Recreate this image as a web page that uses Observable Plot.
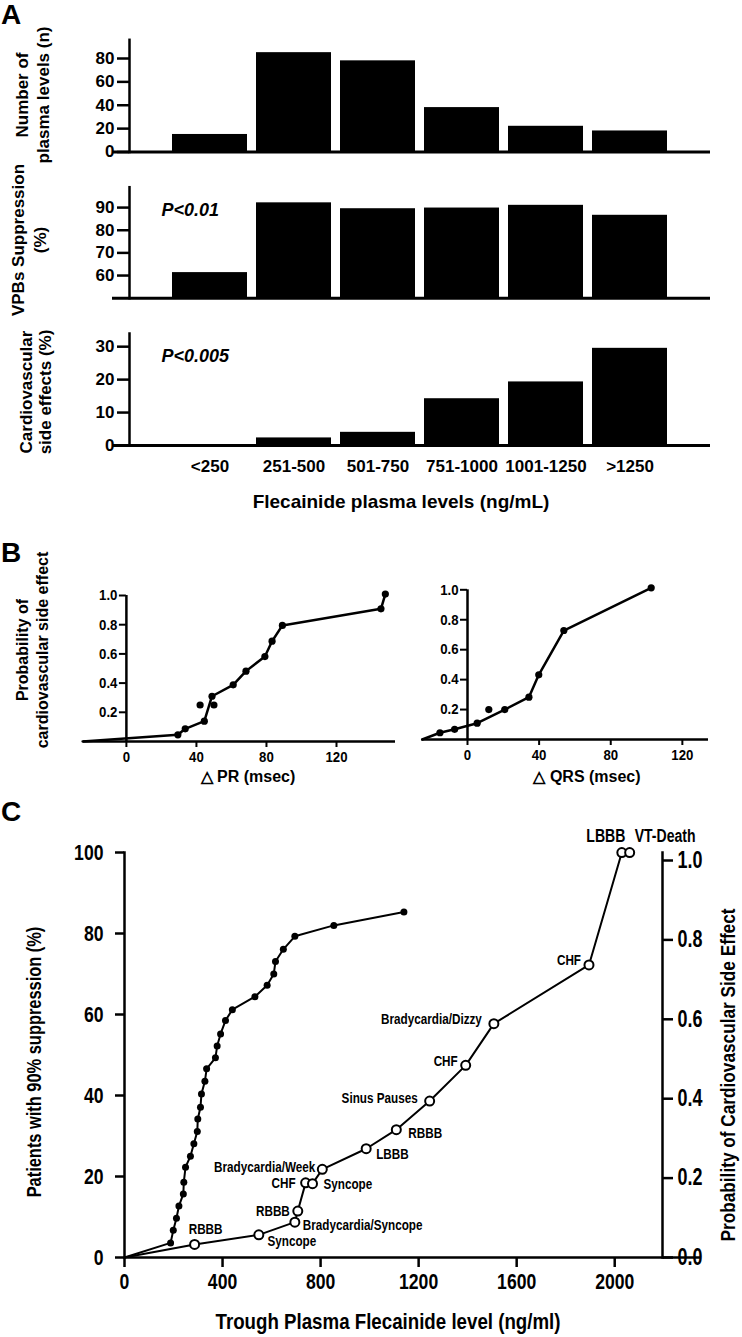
<!DOCTYPE html>
<html><head><meta charset="utf-8">
<script src="https://cdn.jsdelivr.net/npm/d3@7"></script>
<script src="https://cdn.jsdelivr.net/npm/@observablehq/plot@0.6"></script>
<style>
body{margin:0;background:#fff;}
#fig{position:relative;width:742px;height:1337px;overflow:hidden;background:#fff;}
#fig svg{position:absolute;left:0;}
.lab{position:absolute;color:#000;font-weight:bold;white-space:nowrap;text-align:center;}
</style></head><body><div id="fig"></div>
<script>
// ---------- DATA ----------
// Panel A
const plasmaBins = ["<250", "251-500", "501-750", "751-1000", "1001-1250", ">1250"];
const nPlasmaLevels = [15, 85, 78, 38, 22, 18];
const vpbSuppression = [61.3, 92.1, 89.5, 89.8, 91.0, 86.6];
const cvSideEffects = [0, 2.3, 4.0, 14.2, 19.3, 29.5];
// Panel B
const prDelta = [-25, 29.4, 33.6, 44.5, 48.9, 61, 68.3, 79.1, 83.2, 89.1, 145.4, 147.9];
const prProb  = [0, 0.046, 0.087, 0.139, 0.31, 0.388, 0.482, 0.582, 0.687, 0.795, 0.909, 1.01];
const prOutDelta = [42.1, 50];
const prOutProb = [0.25, 0.25];
const qrsDelta = [-25.3, -15.4, -7.2, 5.4, 20.8, 34.3, 39.8, 53.8, 102.6];
const qrsProb  = [0, 0.045, 0.068, 0.109, 0.2, 0.283, 0.432, 0.728, 1.013];
const qrsOutDelta = [11.9];
const qrsOutProb = [0.2];
// Panel C
const suppLevel = [0, 188, 199, 212, 222, 240, 242, 249, 269, 283, 297, 299, 310, 314, 328, 335, 371, 378, 392, 412, 440, 532, 582, 609, 616, 648, 695, 854, 1140];
const suppPct   = [0, 3.6, 6.7, 9.7, 12.7, 15.7, 18.6, 22.3, 25, 28.1, 31.1, 34.2, 37.1, 40.4, 43.5, 46.6, 49.3, 52.2, 55.2, 58.5, 61.2, 64.4, 67.2, 70, 73.1, 76.1, 79.3, 82, 85.3];
const seLevel = [0, 286, 548, 695, 707, 739, 767, 807, 986, 1109, 1245, 1392, 1507, 1895, 2029, 2061];
const seProb  = [0, 0.033, 0.057, 0.089, 0.117, 0.188, 0.186, 0.222, 0.274, 0.322, 0.394, 0.484, 0.589, 0.737, 1.02, 1.02];
const seEvent = ["", "RBBB", "Syncope", "Bradycardia/Syncope", "RBBB", "CHF", "Syncope", "Bradycardia/Week", "LBBB", "RBBB", "Sinus Pauses", "CHF", "Bradycardia/Dizzy", "CHF", "LBBB", "VT-Death"];
const ticksA1 = [0, 20, 40, 60, 80];
const ticksA2 = [60, 70, 80, 90];
const ticksA3 = [0, 10, 20, 30];
const ticksB = [0, 40, 80, 120];
const ticksBy = [0.2, 0.4, 0.6, 0.8, 1.0];
const ticksCx = [0, 400, 800, 1200, 1600, 2000];
const ticksCy = [0, 20, 40, 60, 80, 100];
const ticksCr = [0, 0.2, 0.4, 0.6, 0.8, 1.0];

// ---------- LAYOUT / STYLE ----------
const FONT = '"Liberation Sans",Arial,sans-serif';
const fig = document.getElementById("fig");
function put(svg, top){ svg.style.top = top + "px"; fig.appendChild(svg); return svg; }
// horizontally condense svg texts (the reference uses a condensed bold face)
function condense(svg, f, sel = "text") {
  svg.querySelectorAll(sel).forEach(t => {
    const L = t.getComputedTextLength();
    if (L > 0) { t.setAttribute("textLength", (L * f).toFixed(2)); t.setAttribute("lengthAdjust", "spacingAndGlyphs"); }
  });
}
function lab(html, cx, cy, size, o = {}) {
  const d = document.createElement("div");
  d.className = "lab";
  d.innerHTML = html;
  d.style.left = cx + "px"; d.style.top = cy + "px";
  d.style.fontSize = size + "px";
  d.style.fontFamily = FONT;
  d.style.lineHeight = (o.lh || size * 1.15) + "px";
  if (o.italic) d.style.fontStyle = "italic";
  d.style.transform = "translate(-50%,-50%)" + (o.rot ? " rotate(-90deg)" : "") + (o.sx ? ` scaleX(${o.sx})` : "");
  fig.appendChild(d);
}
const baseStyle = (fs) => ({background: "transparent", overflow: "visible", fontFamily: FONT, fontWeight: "bold", fontSize: fs + "px", color: "black"});

// ---------- PANEL A ----------
const rowsA = plasmaBins.map((b, i) => ({bin: b, n: nPlasmaLevels[i], vpb: vpbSuppression[i], cv: cvSideEffects[i]}));
function panelA({height, mt, mb, field, domain, ticks, base, annot, showX}) {
  const marks = [
    Plot.barY(rowsA, {x: "bin", y1: () => base, y2: field, fill: "black"}),
    Plot.ruleY([base], {strokeWidth: 3, insetLeft: -17}),
    Plot.frame({anchor: "left", strokeWidth: 2.5}),
    Plot.axisY({ticks, tickSize: 12, tickPadding: 3, strokeWidth: 2.5, fontSize: 17, fontWeight: "bold", label: null})
  ];
  if (annot) marks.push(Plot.text([annot], {frameAnchor: "top-left", dx: 32, dy: 16, textAnchor: "start", fontSize: 18, fontStyle: "italic", fontWeight: "bold"}));
  if (showX) marks.push(Plot.axisX({tickSize: 0, tickPadding: 14, fontSize: 17, fontWeight: "bold", label: null}));
  return Plot.plot({
    width: 742, height, marginLeft: 129, marginRight: 32, marginTop: mt, marginBottom: mb,
    x: {domain: plasmaBins, paddingInner: 0.11, paddingOuter: 0.5, axis: showX ? undefined : null},
    y: {domain},
    style: baseStyle(17),
    marks
  });
}
put(panelA({height: 170, mt: 39.3, mb: 18.5, field: "n", domain: [0, 96], ticks: ticksA1, base: 0}), 0);
put(panelA({height: 140, mt: 16.7, mb: 12.3, field: "vpb", domain: [50, 99], ticks: ticksA2, base: 50, annot: "P<0.01"}), 170);
put(panelA({height: 200, mt: 13, mb: 75, field: "cv", domain: [0, 34], ticks: ticksA3, base: 0, annot: "P<0.005", showX: true}), 320);

// ---------- PANEL B ----------
function panelB({xdom, ml, mr, mt, mb, dx, dp, odx, odp}) {
  const pts = dx.map((x, i) => ({x, y: dp[i]}));
  const out = odx.map((x, i) => ({x, y: odp[i]}));
  return Plot.plot({
    width: 742, height: 260, marginLeft: ml, marginRight: mr, marginTop: mt, marginBottom: mb,
    x: {domain: xdom}, y: {domain: [0, 1], axis: null},
    style: baseStyle(15),
    marks: [
      Plot.ruleY([0], {strokeWidth: 2.5}),
      Plot.ruleX([0], {y1: 0, y2: 1, strokeWidth: 2.5}),
      Plot.ruleY(ticksBy, {x1: 0, x2: 0, insetLeft: -7, strokeWidth: 2}),
      Plot.text(ticksBy, {x: 0, y: d => d, text: d => d.toFixed(1), textAnchor: "end", dx: -9, fontSize: 15}),
      Plot.axisX({ticks: ticksB, tickSize: 6, tickPadding: 4, strokeWidth: 2, fontSize: 15, label: null}),
      Plot.line(pts, {x: "x", y: "y", strokeWidth: 2.5}),
      Plot.dot(pts.slice(1), {x: "x", y: "y", r: 3.6, fill: "black"}),
      Plot.dot(out, {x: "x", y: "y", r: 3.6, fill: "black"})
    ]
  });
}
condense(put(panelB({xdom: [-24.5, 153.7], ml: 83, mr: 347, mt: 65, mb: 49, dx: prDelta, dp: prProb, odx: prOutDelta, odp: prOutProb}), 530), 0.88);
condense(put(panelB({xdom: [-25.3, 134.6], ml: 421.7, mr: 34, mt: 59.3, mb: 51, dx: qrsDelta, dp: qrsProb, odx: qrsOutDelta, odp: qrsOutProb}), 530), 0.88);

// ---------- PANEL C ----------
const supp = suppLevel.map((x, i) => ({x, y: suppPct[i]}));
const se = seLevel.map((x, i) => ({x, y: seProb[i], ev: seEvent[i]}));
const c1 = Plot.plot({
  width: 742, height: 537, marginLeft: 124, marginRight: 42, marginTop: 52, marginBottom: 80,
  x: {domain: [0, 2350]}, y: {domain: [0, 100]},
  style: baseStyle(22),
  marks: [
    Plot.ruleY([0], {strokeWidth: 2.5}),
    Plot.frame({anchor: "left", strokeWidth: 2.5}),
    Plot.axisY({ticks: ticksCy, tickSize: 9, tickPadding: 12, strokeWidth: 2.5, fontSize: 22, label: null}),
    Plot.axisX({ticks: ticksCx, tickFormat: d => String(d), tickSize: 10, tickPadding: 6, strokeWidth: 2.5, fontSize: 22, label: null}),
    Plot.line(supp, {x: "x", y: "y", strokeWidth: 2}),
    Plot.dot(supp.slice(1), {x: "x", y: "y", r: 3.5, fill: "black"})
  ]
});
condense(put(c1, 800), 0.8);
// label placement for side-effect events: [anchor, dx, dy, fontSize]
const evPlace = [null,
  ["middle", 11, -15, 15], ["middle", 33, 6, 15], ["start", 8, 3, 15], ["end", -8, 0, 15],
  ["end", -10, 0, 15], ["start", 11, 1, 15], ["end", -7, -2, 15], ["start", 10, 5, 15],
  ["start", 12, 4, 15], ["end", -12, -3, 15], ["end", -8, -4, 15], ["end", -12, -4, 15],
  ["end", -8, -5, 15], ["middle", -16, -16, 18], ["start", 5, -16, 18]];
const evMarks = se.slice(1).map((d, k) => {
  const p = evPlace[k + 1];
  return Plot.text([d], {x: "x", y: "y", text: "ev", textAnchor: p[0], dx: p[1], dy: p[2], fontSize: p[3], fontWeight: "bold"});
});
const c2 = Plot.plot({
  width: 742, height: 537, marginLeft: 124, marginRight: 80, marginTop: 52, marginBottom: 80,
  x: {domain: [0, 2350], range: [124, 700], axis: null}, y: {domain: [0, 1], range: [457, 60]},
  style: baseStyle(22),
  marks: [
    Plot.frame({anchor: "right", strokeWidth: 2.5}),
    Plot.axisY({anchor: "right", ticks: ticksCr, tickFormat: d => d.toFixed(1), tickSize: 10, tickPadding: 5, strokeWidth: 2.5, fontSize: 23, label: null}),
    Plot.line(se, {x: "x", y: "y", strokeWidth: 2}),
    Plot.dot(se.slice(1), {x: "x", y: "y", r: 4.5, fill: "white", stroke: "black", strokeWidth: 2}),
    ...evMarks
  ]
});
condense(put(c2, 800), 0.78);

// ---------- TEXT LABELS ----------
lab("A", 11, 15, 28, {lh: 28});
lab("B", 11, 553, 28, {lh: 28});
lab("C", 11, 812, 28, {lh: 28});
lab("Number of<br>plasma levels (n)", 33, 95, 17, {rot: true, lh: 21});
lab("VPBs Suppression<br>(%)", 30, 240, 17, {rot: true, lh: 22});
lab("Cardiovascular<br>side effects (%)", 36, 392, 17, {rot: true, lh: 19});
lab("Flecainide plasma levels (ng/mL)", 401, 502, 19);
lab("Probability of<br>cardiovascular side effect", 33, 650, 16, {rot: true, lh: 20});
lab("△ PR (msec)", 248, 777, 16);
lab("△ QRS (msec)", 587, 777, 16);
lab("Patients with 90% suppression (%)", 34, 1062, 20, {rot: true, sx: 0.82});
lab("Probability of Cardiovascular Side Effect", 728, 1075, 21, {rot: true, sx: 0.82});
lab("Trough Plasma Flecainide level (ng/ml)", 388, 1322, 22, {sx: 0.85});
</script></body></html>
